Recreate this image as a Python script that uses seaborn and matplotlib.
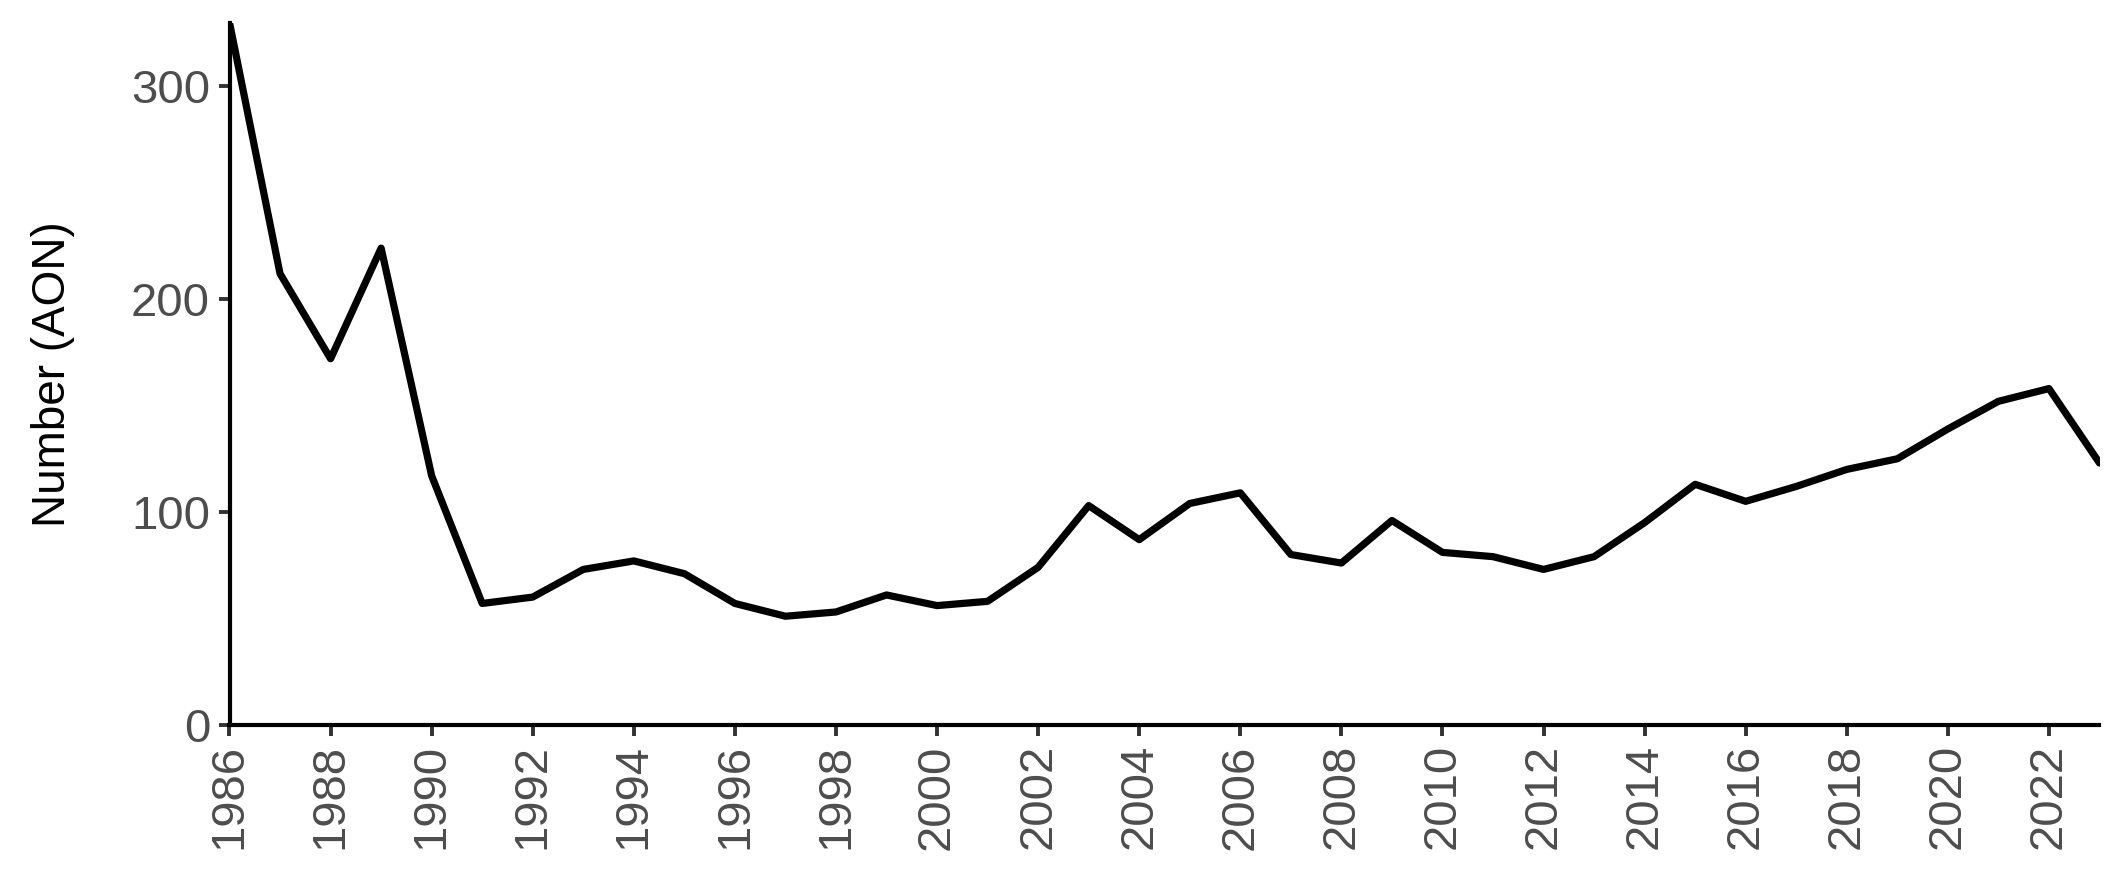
import numpy as np
import pandas as pd
import seaborn as sns
import matplotlib.pyplot as plt

# annual counts
years = list(range(1986, 2024))
counts = [330, 212, 172, 224, 117, 57, 60, 73, 77, 71,
          57, 51, 53, 61, 56, 58, 74, 103, 87, 104,
          109, 80, 76, 96, 81, 79, 73, 79, 95, 113,
          105, 112, 120, 125, 139, 152, 158, 123]
tick_years = list(range(1986, 2024, 2))
y_ticks = [0, 100, 200, 300]

df = pd.DataFrame({'year': years, 'count': counts})

sns.set_style('ticks')
plt.rcParams['font.family'] = ['Liberation Sans', 'DejaVu Sans']

fig = plt.figure(figsize=(21.25, 8.69), dpi=100)
ax = fig.add_axes([0.108, 0.166, 0.880, 0.808])

sns.lineplot(data=df, x='year', y='count', color='black', linewidth=5.2, ax=ax)

ax.set_xlim(1986, 2023)
ax.set_ylim(0, max(counts))
ax.set_xticks(tick_years)
ax.set_xticklabels([str(y) for y in tick_years], rotation=90)
ax.set_yticks(y_ticks)

ax.set_xlabel('')
ax.set_ylabel('Number (AON)', fontsize=33, color='black', labelpad=40)
ax.tick_params(axis='both', labelsize=34, colors='#333333',
               length=8, width=2.8, pad=6)
ax.tick_params(axis='both', labelcolor='#4D4D4D')

sns.despine(ax=ax)
for side in ['left', 'bottom']:
    ax.spines[side].set_linewidth(3.0)
    ax.spines[side].set_color('black')

fig.savefig('out.png', dpi=100)
